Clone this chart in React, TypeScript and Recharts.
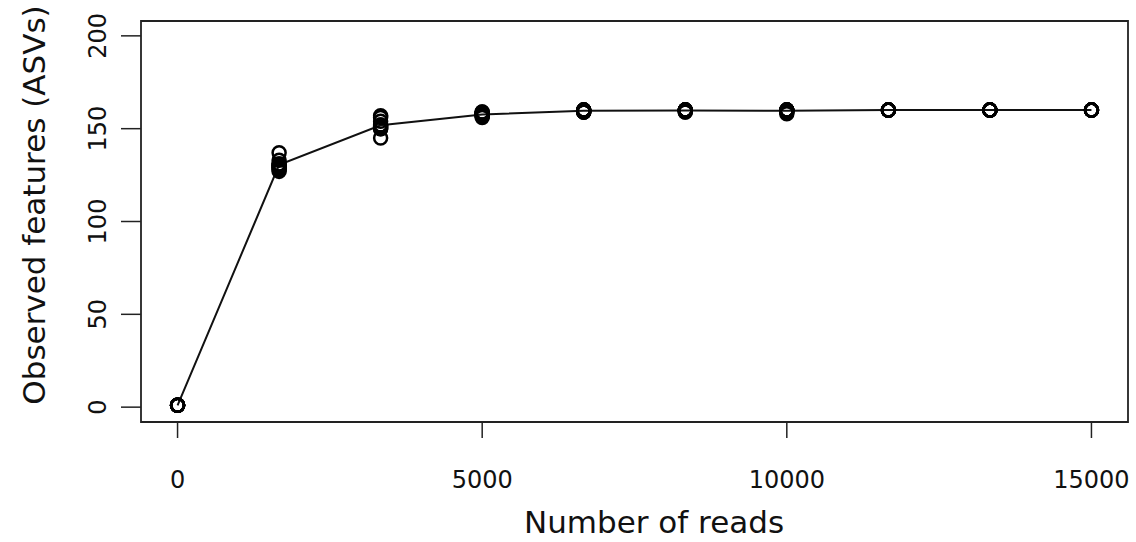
import React from 'react';
import { ComposedChart, Scatter, Line, XAxis, YAxis, ReferenceArea } from 'recharts';

// sequencing depths used for rarefaction
const depths = [0, 1667, 3333, 5000, 6667, 8333, 10000, 11667, 13333, 15000];

// observed features per iteration, one row per depth
const featuresByDepth = [
  [1, 1, 1, 1, 1, 1, 1, 1, 1, 1],
  [137, 133, 131, 130, 129, 128, 127, 131, 130, 129],
  [157, 156, 154, 152, 151, 150, 145, 151, 152, 150],
  [159, 158, 158, 157, 156, 158, 157, 159, 157, 158],
  [160, 160, 159, 160, 159, 160, 159, 160, 160, 159],
  [160, 160, 160, 159, 160, 160, 160, 159, 160, 160],
  [160, 159, 160, 160, 158, 160, 160, 160, 159, 160],
  [160, 160, 160, 160, 160, 160, 160, 160, 160, 160],
  [160, 160, 160, 160, 160, 160, 160, 160, 160, 160],
  [160, 160, 160, 160, 160, 160, 160, 160, 160, 160],
];

const xTicks = [0, 5000, 10000, 15000];
const yTicks = [0, 50, 100, 150, 200];

const points = depths.flatMap((reads, i) =>
  featuresByDepth[i].map(features => ({ reads, features }))
);

const means = depths.map((reads, i) => ({
  reads,
  features: featuresByDepth[i].reduce((a, b) => a + b, 0) / featuresByDepth[i].length,
}));

const FONT = '"DejaVu Sans", sans-serif';

const XTick = (props: any) => (
  <text x={props.x} y={480} textAnchor="middle" dominantBaseline="central"
    fontFamily={FONT} fontSize={24} fill="#111">
    {props.payload.value}
  </text>
);

const YTick = (props: any) => (
  <text x={98} y={props.y} textAnchor="middle" dominantBaseline="central"
    transform={`rotate(-90 98 ${props.y})`} fontFamily={FONT} fontSize={24} fill="#111">
    {props.payload.value}
  </text>
);

const OpenCircle = (props: any) => (
  <circle cx={props.cx} cy={props.cy} r={6.5} fill="none" stroke="#000" strokeWidth={2.5} />
);

export default function App() {
  return (
    <div>
      <style>{'body{margin:0;background:#fff}'}</style>
      <ComposedChart width={1136} height={542} margin={{ top: 21, right: 8, left: 0, bottom: 0 }}>
        <XAxis
          type="number"
          dataKey="reads"
          domain={[-600, 15600]}
          ticks={xTicks}
          allowDataOverflow
          height={120}
          axisLine={false}
          tickSize={16}
          tickLine={{ stroke: '#222', strokeWidth: 1.5 }}
          tick={<XTick />}
          label={{
            content: () => (
              <text x={654} y={522} textAnchor="middle" dominantBaseline="central"
                fontFamily={FONT} fontSize={31} fill="#111">
                Number of reads
              </text>
            ),
          }}
        />
        <YAxis
          type="number"
          dataKey="features"
          domain={[-8, 208]}
          ticks={yTicks}
          allowDataOverflow
          width={141}
          axisLine={false}
          tickSize={20}
          tickLine={{ stroke: '#222', strokeWidth: 1.5 }}
          tick={<YTick />}
          label={{
            content: () => (
              <text x={34} y={205} textAnchor="middle" dominantBaseline="central"
                transform="rotate(-90 34 205)" fontFamily={FONT} fontSize={31} fill="#111">
                Observed features (ASVs)
              </text>
            ),
          }}
        />
        <ReferenceArea x1={-600} x2={15600} y1={-8} y2={208} fill="none" fillOpacity={0}
          stroke="#222" strokeWidth={1.8} ifOverflow="visible" />
        <Line
          data={means}
          dataKey="features"
          type="linear"
          stroke="#111"
          strokeWidth={2}
          dot={false}
          activeDot={false}
          isAnimationActive={false}
        />
        <Scatter data={points} dataKey="features" shape={<OpenCircle />} isAnimationActive={false} />
      </ComposedChart>
    </div>
  );
}
